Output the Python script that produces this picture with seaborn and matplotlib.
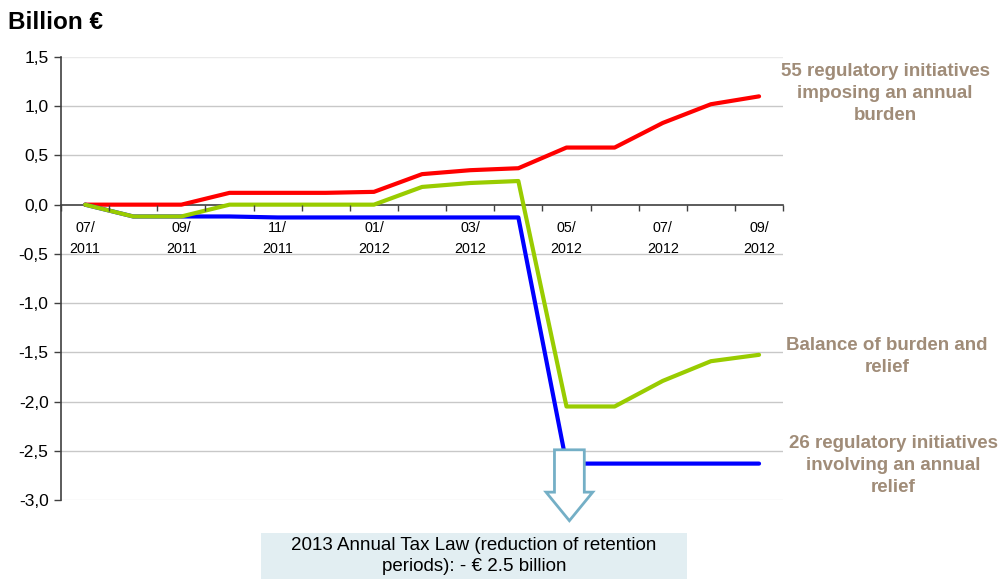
import matplotlib
matplotlib.use("Agg")
import matplotlib.pyplot as plt
from matplotlib.patches import FancyArrow, Rectangle
import seaborn as sns
import pandas as pd
import numpy as np

months = ["07/\n2011", "08/\n2011", "09/\n2011", "10/\n2011", "11/\n2011", "12/\n2011",
          "01/\n2012", "02/\n2012", "03/\n2012", "04/\n2012", "05/\n2012", "06/\n2012",
          "07/\n2012", "08/\n2012", "09/\n2012"]
burden = [0.0, 0.0, 0.0, 0.12, 0.12, 0.12, 0.13, 0.31, 0.35, 0.37, 0.58, 0.58, 0.83, 1.02, 1.10]
relief = [0.0, -0.12, -0.12, -0.12, -0.13, -0.13, -0.13, -0.13, -0.13, -0.13, -2.63, -2.63, -2.63, -2.63, -2.63]
balance = [0.0, -0.12, -0.12, 0.0, 0.0, 0.0, 0.0, 0.18, 0.22, 0.24, -2.05, -2.05, -1.79, -1.59, -1.525]
series_names = ["55 regulatory initiatives\nimposing an annual\nburden",
                "26 regulatory initiatives\ninvolving an annual\nrelief",
                "Balance of burden and\nrelief"]
series_colors = ["#FF0000", "#0000FF", "#99CC00"]
yticks = [1.5, 1.0, 0.5, 0.0, -0.5, -1.0, -1.5, -2.0, -2.5, -3.0]
ytick_labels = ["1,5", "1,0", "0,5", "0,0", "-0,5", "-1,0", "-1,5", "-2,0", "-2,5", "-3,0"]
note_text = "2013 Annual Tax Law (reduction of retention\nperiods): - € 2.5 billion"
title_text = "Billion €"
drop_month = "05/\n2012"

sns.set_theme(style="white")
plt.rcParams['font.family'] = ['Liberation Sans', 'DejaVu Sans']
plt.rcParams['text.color'] = 'black'

pos = list(range(len(months)))
df = pd.concat([
    pd.DataFrame({"pos": pos, "value": vals, "series": name})
    for name, vals in zip(series_names, [burden, relief, balance])
])

fig = plt.figure(figsize=(10.04, 5.79), dpi=100)
ax = fig.add_axes([0.0608, 0.1364, 0.7192, 0.7652])

ax.set_ylim(-3.0, 1.5)
ax.set_xlim(-0.5, len(months) - 0.5)
for y in yticks:
    if y != 0:
        ax.axhline(y, color="#C8C8C8" if y not in (1.5, -3.0) else "#EAEAEA", lw=1, zorder=0)

sns.lineplot(data=df, x="pos", y="value", hue="series", hue_order=series_names,
             palette=series_colors, linewidth=3, legend=False, ax=ax, zorder=3)

ax.set_xlabel("")
ax.set_ylabel("")
for s in ["top", "right"]:
    ax.spines[s].set_visible(False)
ax.spines["bottom"].set_position(("data", 0))
ax.spines["bottom"].set_color("#404040")
ax.spines["left"].set_color("#404040")
ax.spines["bottom"].set_linewidth(1.2)
ax.spines["left"].set_linewidth(1.2)
ax.spines["bottom"].set_zorder(2)

ax.set_yticks(yticks)
ax.set_yticklabels(ytick_labels, fontsize=12.5, color="black")
ax.tick_params(axis="y", direction="out", length=5, width=1, color="#404040", left=True, pad=4)

ax.set_xticks(np.arange(-0.5, len(months), 1.0))
ax.set_xticklabels([])
ax.tick_params(axis="x", which="major", direction="out", length=4, width=1, color="#404040", bottom=True)
ax.set_xticks(pos[::2], minor=True)
ax.set_xticklabels(months[::2], minor=True, fontsize=10.3, color="black", linespacing=1.6)
ax.tick_params(axis="x", which="minor", length=0, pad=12)
ax.xaxis.set_zorder(5)

fig.text(0.008, 0.962, title_text, fontsize=17.5, fontweight="bold", ha="left", va="center", color="black")

label_color = "#A08C78"
ax.annotate(series_names[0], xy=(1.0, burden[-1]), xycoords=("axes fraction", "data"),
            xytext=(0.8815, 0.8385), textcoords="figure fraction",
            ha="center", va="center", fontsize=13.5, fontweight="bold", color=label_color, linespacing=1.38)
ax.annotate(series_names[2], xy=(1.0, balance[-1]), xycoords=("axes fraction", "data"),
            xytext=(0.8835, 0.385), textcoords="figure fraction",
            ha="center", va="center", fontsize=13.5, fontweight="bold", color=label_color, linespacing=1.38)
ax.annotate(series_names[1], xy=(1.0, relief[-1]), xycoords=("axes fraction", "data"),
            xytext=(0.890, 0.1964), textcoords="figure fraction",
            ha="center", va="center", fontsize=13.5, fontweight="bold", color=label_color, linespacing=1.38)

xi = months.index(drop_month)
arrow = FancyArrow(xi + 0.06, relief[xi] + 0.14, 0, -0.72, width=0.62, head_width=0.97,
                   head_length=0.29, length_includes_head=True,
                   facecolor="white", edgecolor="#74AFC6", linewidth=2, clip_on=False, zorder=4)
ax.add_patch(arrow)

fig.patches.append(Rectangle((0.26, 0.0), 0.424, 0.0794, transform=fig.transFigure,
                             facecolor="#E2EEF2", edgecolor="none", zorder=1))
fig.text(0.472, 0.0397, note_text, ha="center", va="center", fontsize=13.5, color="black",
         linespacing=1.3, zorder=2)

fig.savefig("out.png", dpi=100)
